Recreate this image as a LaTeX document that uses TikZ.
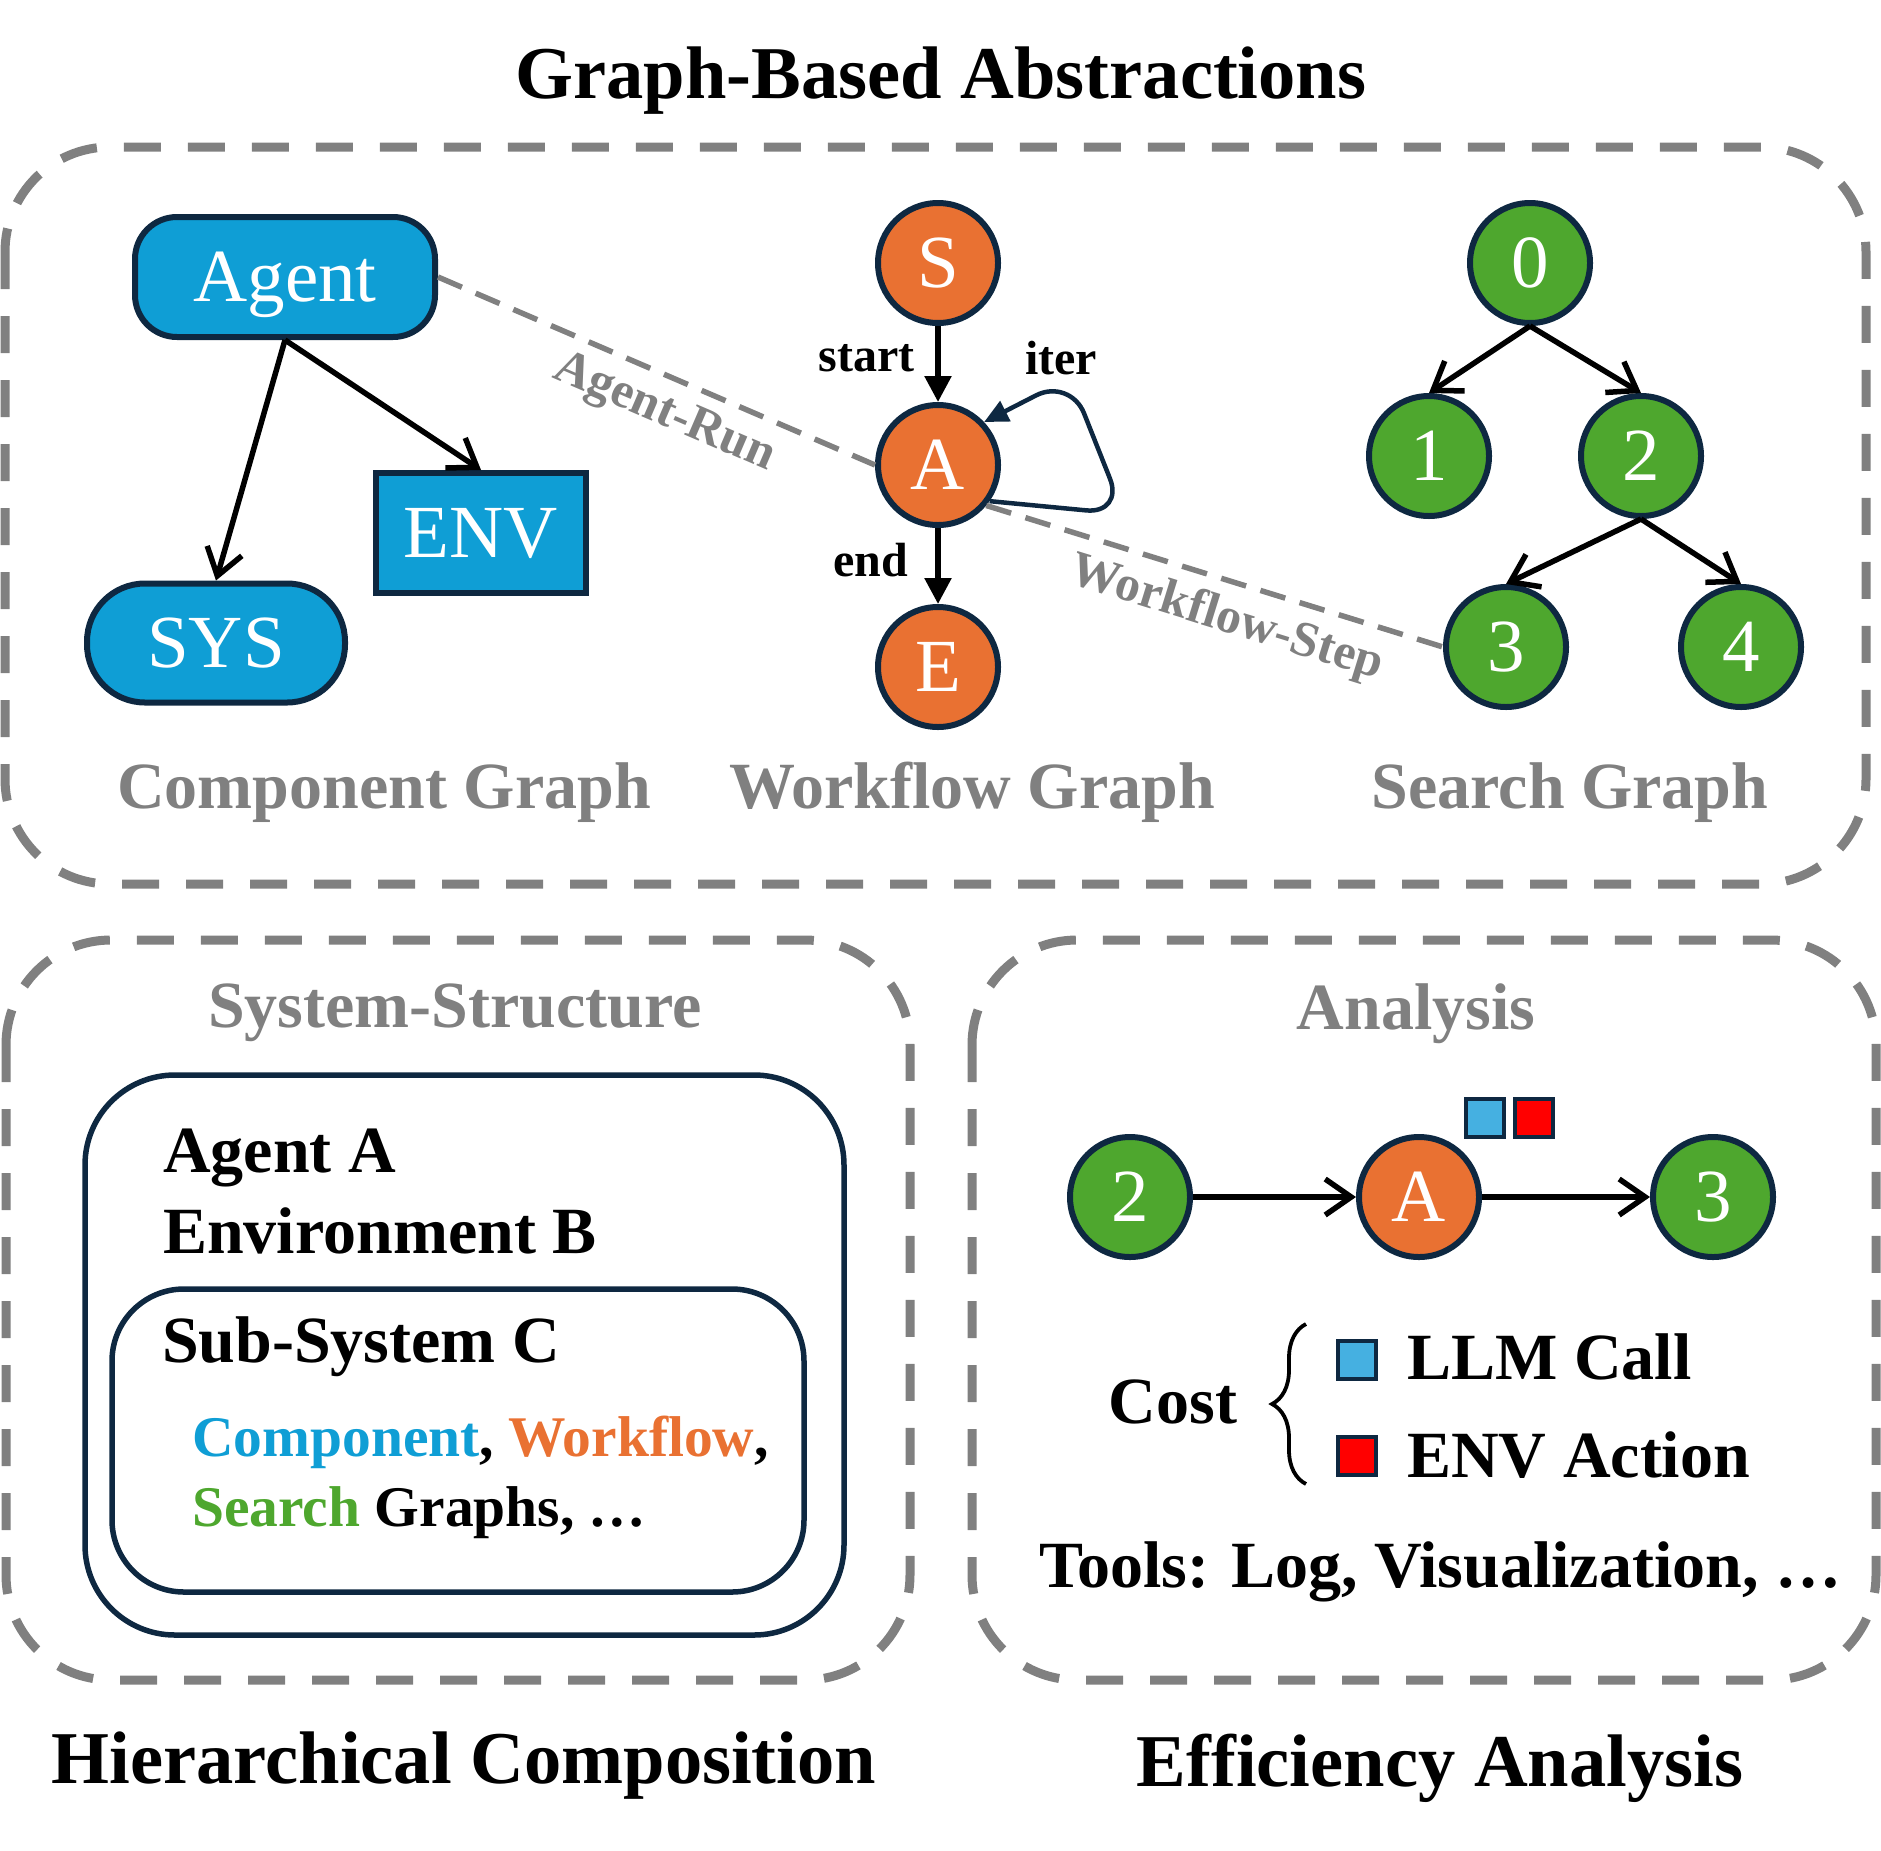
\documentclass[tikz,border=0pt]{standalone}
\usepackage{fontspec}
\setmainfont{Liberation Serif}
\usetikzlibrary{arrows.meta,decorations.pathreplacing}
\definecolor{cblue}{HTML}{0F9ED5}
\definecolor{corange}{HTML}{E97132}
\definecolor{cgreen}{HTML}{4EA72E}
\definecolor{cnavy}{HTML}{0E2841}
\definecolor{cgray}{HTML}{808080}
\definecolor{clight}{HTML}{45B0E1}
\definecolor{cred}{HTML}{FF0000}
\newcommand\fsz[1]{\fontsize{#1}{#1}\selectfont}
\begin{document}
\begin{tikzpicture}[x=1pt,y=-1pt,
  panel/.style={draw=cgray, line width=9pt, dash pattern=on 37pt off 27pt, rounded corners=105pt},
  compnode/.style={draw=cnavy, line width=6pt, fill=cblue, text=white, font={\fsz{75}}, inner sep=0pt, text depth=0pt},
  circ/.style={circle, draw=cnavy, line width=6pt, text=white, font={\fsz{75}}, minimum size=120pt, inner sep=0pt, text depth=0pt},
  wf/.style={circ, fill=corange},
  sg/.style={circ, fill=cgreen},
  barb/.style={line width=5.5pt, -{Straight Barb[length=26pt,width=36pt]}},
  tri/.style={line width=5.5pt, -{Triangle[length=26pt,width=26pt]}},
  conn/.style={draw=cgray, line width=5.5pt, dash pattern=on 26pt off 15pt},
  lbl/.style={text=cgray, font={\fsz{66}\bfseries}, inner sep=0pt},
  txt/.style={text=black, font={\fsz{66}\bfseries}, inner sep=0pt},
  txtsm/.style={text=black, font={\fsz{57.5}\bfseries}, inner sep=0pt},
  ttl/.style={text=black, font={\fsz{74.5}\bfseries}, inner sep=0pt},
  edgelbl/.style={text=black, font={\fsz{48}\bfseries}, inner sep=0pt},
  slab/.style={text=cgray, font={\fsz{50}\bfseries}, sloped, below, pos=0.55, inner sep=12pt},
  navybox/.style={draw=cnavy, line width=5.5pt},
  sq/.style={draw=cnavy, line width=4.5pt, minimum size=38pt, inner sep=0pt}
]
\useasboundingbox (0,0) rectangle (1881,1850);

% titles
\node[ttl, anchor=base] (t1) at (941,98) {Graph-Based Abstractions};
\node[ttl, anchor=base] (t2) at (464,1783) {Hierarchical Composition};
\node[ttl, anchor=base] (t3) at (1440,1786) {Efficiency Analysis};

% top panel
\draw[panel] (5,147) rectangle (1866,884);

% component graph
\node[compnode, rounded corners=42pt, minimum width=300pt, minimum height=120pt] (agent) at (285,277) {Agent};
\node[compnode, minimum width=210pt, minimum height=120pt] (env) at (481,533) {ENV};
\node[compnode, rounded corners=58pt, minimum width=258pt, minimum height=119pt] (sys) at (216,643) {SYS};
\draw[barb] (agent.south) -- (sys.north);
\draw[barb] (agent.south) -- (env.north);

% workflow graph
\node[wf] (S) at (938,263) {S};
\node[wf] (A) at (938,465) {A};
\node[wf] (E) at (938,667) {E};
\draw[tri] (S) -- (A);
\draw[tri] (A) -- (E);
\draw[line width=4.5pt, cnavy, rounded corners=38pt, -{Triangle[length=24pt,width=22pt]}]
  (A.-35) -- (1124,514) -- (1070,378) -- (A.43);
\node[edgelbl, anchor=base east] (lstart) at (915,371) {start};
\node[edgelbl, anchor=base west] (liter) at (1025,374) {iter};
\node[edgelbl, anchor=base east] (lend) at (908,576) {end};

% search graph
\node[sg] (n0) at (1530,263) {0};
\node[sg] (n1) at (1429,456) {1};
\node[sg] (n2) at (1641,456) {2};
\node[sg] (n3) at (1506,647) {3};
\node[sg] (n4) at (1741,647) {4};
\draw[barb] (n0.south) -- (n1.north);
\draw[barb] (n0.south) -- (n2.north);
\draw[barb] (n2.south) -- (n3.north);
\draw[barb] (n2.south) -- (n4.north);

% cross links
\draw[conn] (agent.east) -- node[slab] {Agent-Run} (A.west);
\draw[conn] (A.-40) -- node[slab] {Workflow-Step} (n3.west);

\node[lbl, anchor=base] (c1) at (384,808) {Component Graph};
\node[lbl, anchor=base] (c2) at (972,808) {Workflow Graph};
\node[lbl, anchor=base] (c3) at (1570,808) {Search Graph};

% bottom-left panel
\draw[panel] (6,940) rectangle (910,1680);
\node[lbl, anchor=base] (ss) at (455,1027) {System-Structure};
\draw[navybox, rounded corners=90pt] (85,1075) rectangle (844,1635);
\draw[navybox, rounded corners=72pt] (112,1289) rectangle (804,1592);
\node[txt, anchor=base west] (ta) at (163,1172) {Agent A};
\node[txt, anchor=base west] (tb) at (163,1253) {Environment B};
\node[txt, anchor=base west] (tc) at (162,1362) {Sub-System C};
\node[txtsm, anchor=base west] (td) at (192,1456) {\textcolor{cblue}{Component}, \textcolor{corange}{Workflow},};
\node[txtsm, anchor=base west] (te) at (192,1526) {\textcolor{cgreen}{Search} Graphs, \ldots};

% bottom-right panel
\draw[panel] (972,940) rectangle (1876,1680);
\node[lbl, anchor=base] (an) at (1416,1029) {Analysis};
\node[sg] (m2) at (1130,1197) {2};
\node[wf] (mA) at (1419,1197) {A};
\node[sg] (m3) at (1713,1197) {3};
\draw[barb] (m2) -- (mA);
\draw[barb] (mA) -- (m3);
\node[sq, fill=clight] (q1) at (1485,1118) {};
\node[sq, fill=cred] (q2) at (1534,1118) {};

\node[txt, anchor=base] (cost) at (1173,1423) {Cost};
\draw[decorate, decoration={brace, amplitude=34pt}, line width=3.8pt] (1306,1484) -- (1306,1324);
\node[sq, fill=clight] (l1) at (1357,1360) {};
\node[sq, fill=cred] (l2) at (1357,1456) {};
\node[txt, anchor=base west] (llm) at (1407,1379) {LLM Call};
\node[txt, anchor=base west] (ena) at (1407,1477) {ENV Action};
\node[txt, anchor=base west] (tools) at (1039,1587) {Tools: Log, Visualization, \ldots};
\end{tikzpicture}
\end{document}
